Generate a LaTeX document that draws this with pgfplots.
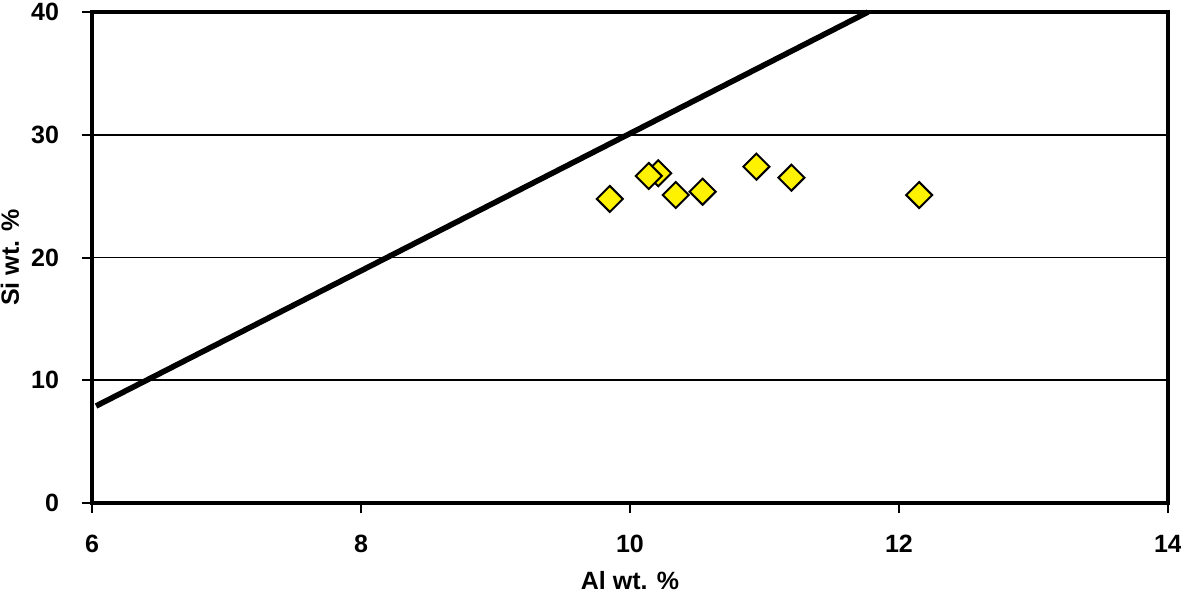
\documentclass[border=0pt]{standalone}
\usepackage{fontspec}
\setmainfont{Liberation Sans}
\usepackage{pgfplots}
\pgfplotsset{compat=1.18}
\begin{document}
\begin{tikzpicture}
\path[use as bounding box] (-46pt,-45pt) rectangle (544.5pt,251.5pt);
\begin{axis}[
  at={(0,0)}, anchor=south west,
  scale only axis, width=538pt, height=245.5pt,
  xmin=6, xmax=14, ymin=0, ymax=40,
  xtick={6,8,10,12,14}, ytick={0,10,20,30,40},
  ymajorgrids, grid style={black, line width=0.9pt},
  axis line style={line width=1.6pt},
  every tick/.style={black, line width=1pt},
  tick align=outside, major tick length=5pt,
  xtick pos=bottom, ytick pos=left,
  /pgf/number format/assume math mode=true,
  tick label style={font=\fontsize{12.5}{14}\selectfont\bfseries},
  xticklabel style={anchor=center, yshift=-15.5pt},
  yticklabel style={anchor=east, xshift=-8pt},
  label style={font=\fontsize{12.5}{14}\selectfont\bfseries},
  xlabel={Al wt. \%}, ylabel={Si wt. \%},
  xlabel style={at={(axis description cs:0.5,-0.157)}, anchor=center},
  ylabel style={at={(axis description cs:-0.0762,0.5)}, anchor=center},
  clip=false,
]
\addplot[black, line width=2.8pt] coordinates {(6.03,7.9) (11.77,40)};
\addplot[only marks, mark=square*, mark size=4.6pt,
  mark options={rotate=45, fill=yellow, draw=black, line width=1pt}]
  coordinates {
  (9.85,24.77)
  (10.21,26.86)
  (10.14,26.64)
  (10.34,25.09)
  (10.54,25.36)
  (10.94,27.4)
  (11.2,26.5)
  (12.15,25.09)
  };
\end{axis}
\end{tikzpicture}
\end{document}
